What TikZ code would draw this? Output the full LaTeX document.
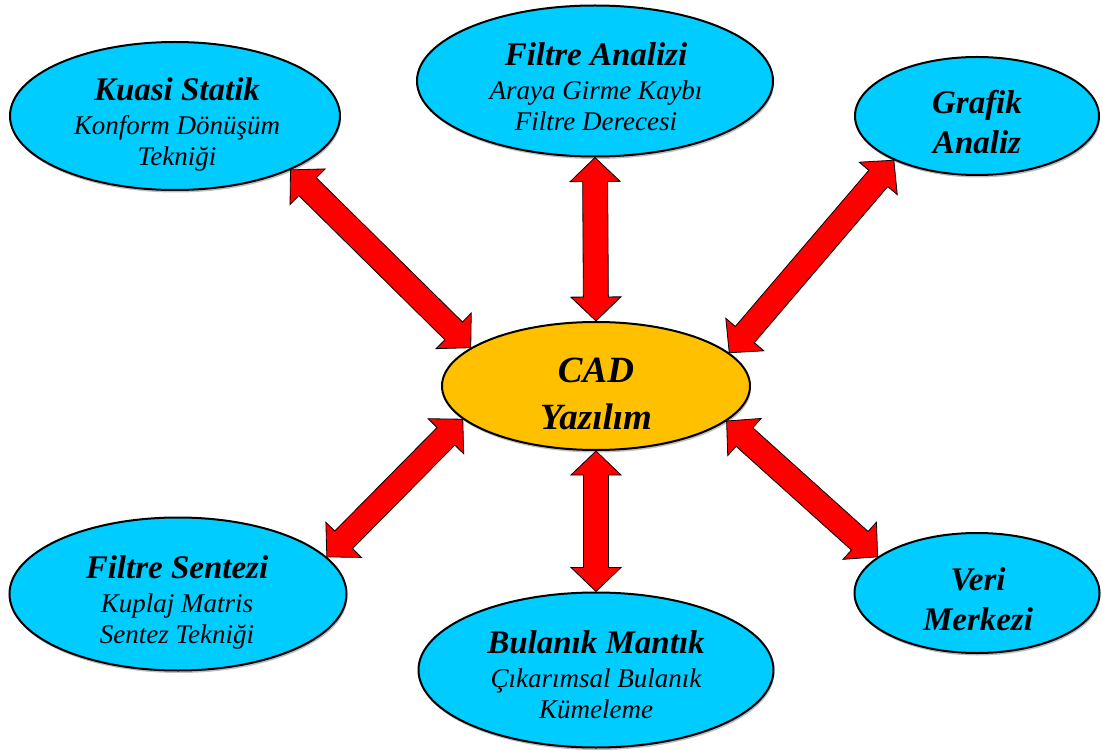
\documentclass[tikz,border=0pt]{standalone}
\usepackage{fontspec}
\setmainfont{Liberation Serif}
\usetikzlibrary{shapes.geometric,calc,shadows}

\definecolor{ovalblue}{RGB}{0,204,255}
\definecolor{hubgold}{RGB}{255,192,0}
\definecolor{arrowred}{RGB}{255,0,0}

\newcommand\headfont{\fontsize{33}{40}\selectfont\bfseries\itshape}
\newcommand\subfont{\fontsize{27}{31}\selectfont\itshape}
\newcommand\hubfont{\fontsize{37}{47}\selectfont\bfseries\itshape}

% double-headed block arrow between two points:
% head length 24pt, head half-width 25pt, shaft half-width 12.5pt
\newcommand\dualarrow[2]{%
  \path[blockarrow] (#1)
    -- ($(#1)!24pt!(#2)!25pt!90:(#2)$)
    -- ($(#1)!24pt!(#2)!12.5pt!90:(#2)$)
    -- ($(#2)!24pt!(#1)!12.5pt!-90:(#1)$)
    -- ($(#2)!24pt!(#1)!25pt!-90:(#1)$)
    -- (#2)
    -- ($(#2)!24pt!(#1)!25pt!90:(#1)$)
    -- ($(#2)!24pt!(#1)!12.5pt!90:(#1)$)
    -- ($(#1)!24pt!(#2)!12.5pt!-90:(#2)$)
    -- ($(#1)!24pt!(#2)!25pt!-90:(#2)$)
    -- cycle;}

\begin{document}
\begin{tikzpicture}[x=1pt,y=-1pt,
  oval/.style={ellipse, draw=black, line width=2pt, fill=ovalblue,
    inner sep=0pt,
    drop shadow={shadow xshift=1pt, shadow yshift=-2.5pt, fill=black, opacity=0.25}},
  hub/.style={oval, fill=hubgold},
  caption/.style={anchor=north, align=center, inner sep=0pt, font=\subfont},
  headcaption/.style={anchor=north, align=center, inner sep=0pt, font=\headfont},
  blockarrow/.style={fill=arrowred, draw=black, line width=0.8pt, line join=miter}]

\useasboundingbox (0,0) rectangle (1103,751);

% ovals
\node[oval, minimum width=330pt, minimum height=148pt] (kuasi)   at (175,116) {};
\node[oval, minimum width=356pt, minimum height=151pt] (fanaliz) at (595,81)  {};
\node[oval, minimum width=244pt, minimum height=118pt] (grafik)  at (977,116) {};
\node[hub,  minimum width=308pt, minimum height=128pt] (cad)     at (596,386) {};
\node[oval, minimum width=337pt, minimum height=153pt] (fsentez) at (178,594) {};
\node[oval, minimum width=355pt, minimum height=155pt] (bulanik) at (596,670) {};
\node[oval, minimum width=245pt, minimum height=120pt] (veri)    at (977,593) {};

% captions
\node[caption] (kuasiT) at (177,77.5)
  {{\headfont Kuasi Statik}\\[3pt] Konform Dönüşüm\\ Tekniği};
\node[caption] (fanalizT) at (596,42.5)
  {{\headfont Filtre Analizi}\\[3pt] Araya Girme Kaybı\\ Filtre Derecesi};
\node[headcaption] (grafikT) at (977,90.5) {Grafik\\ Analiz};
\node[anchor=north, align=center, inner sep=0pt, font=\hubfont] (cadT) at (596,357.7)
  {CAD\\ Yazılım};
\node[caption] (fsentezT) at (177,555.5)
  {{\headfont Filtre Sentezi}\\[3pt] Kuplaj Matris\\ Sentez Tekniği};
\node[caption] (bulanikT) at (596,630.5)
  {{\headfont Bulanık Mantık}\\[3pt] Çıkarımsal Bulanık\\ Kümeleme};
\node[headcaption] (veriT) at (978,567.5) {Veri\\ Merkezi};

% connectors
\dualarrow{kuasi.-25}{cad.163}
\dualarrow{fanaliz.south}{cad.north}
\dualarrow{grafik.208}{cad.14}
\dualarrow{fsentez.14}{cad.194}
\dualarrow{cad.south}{bulanik.north}
\dualarrow{cad.-15}{veri.160}

\end{tikzpicture}
\end{document}
